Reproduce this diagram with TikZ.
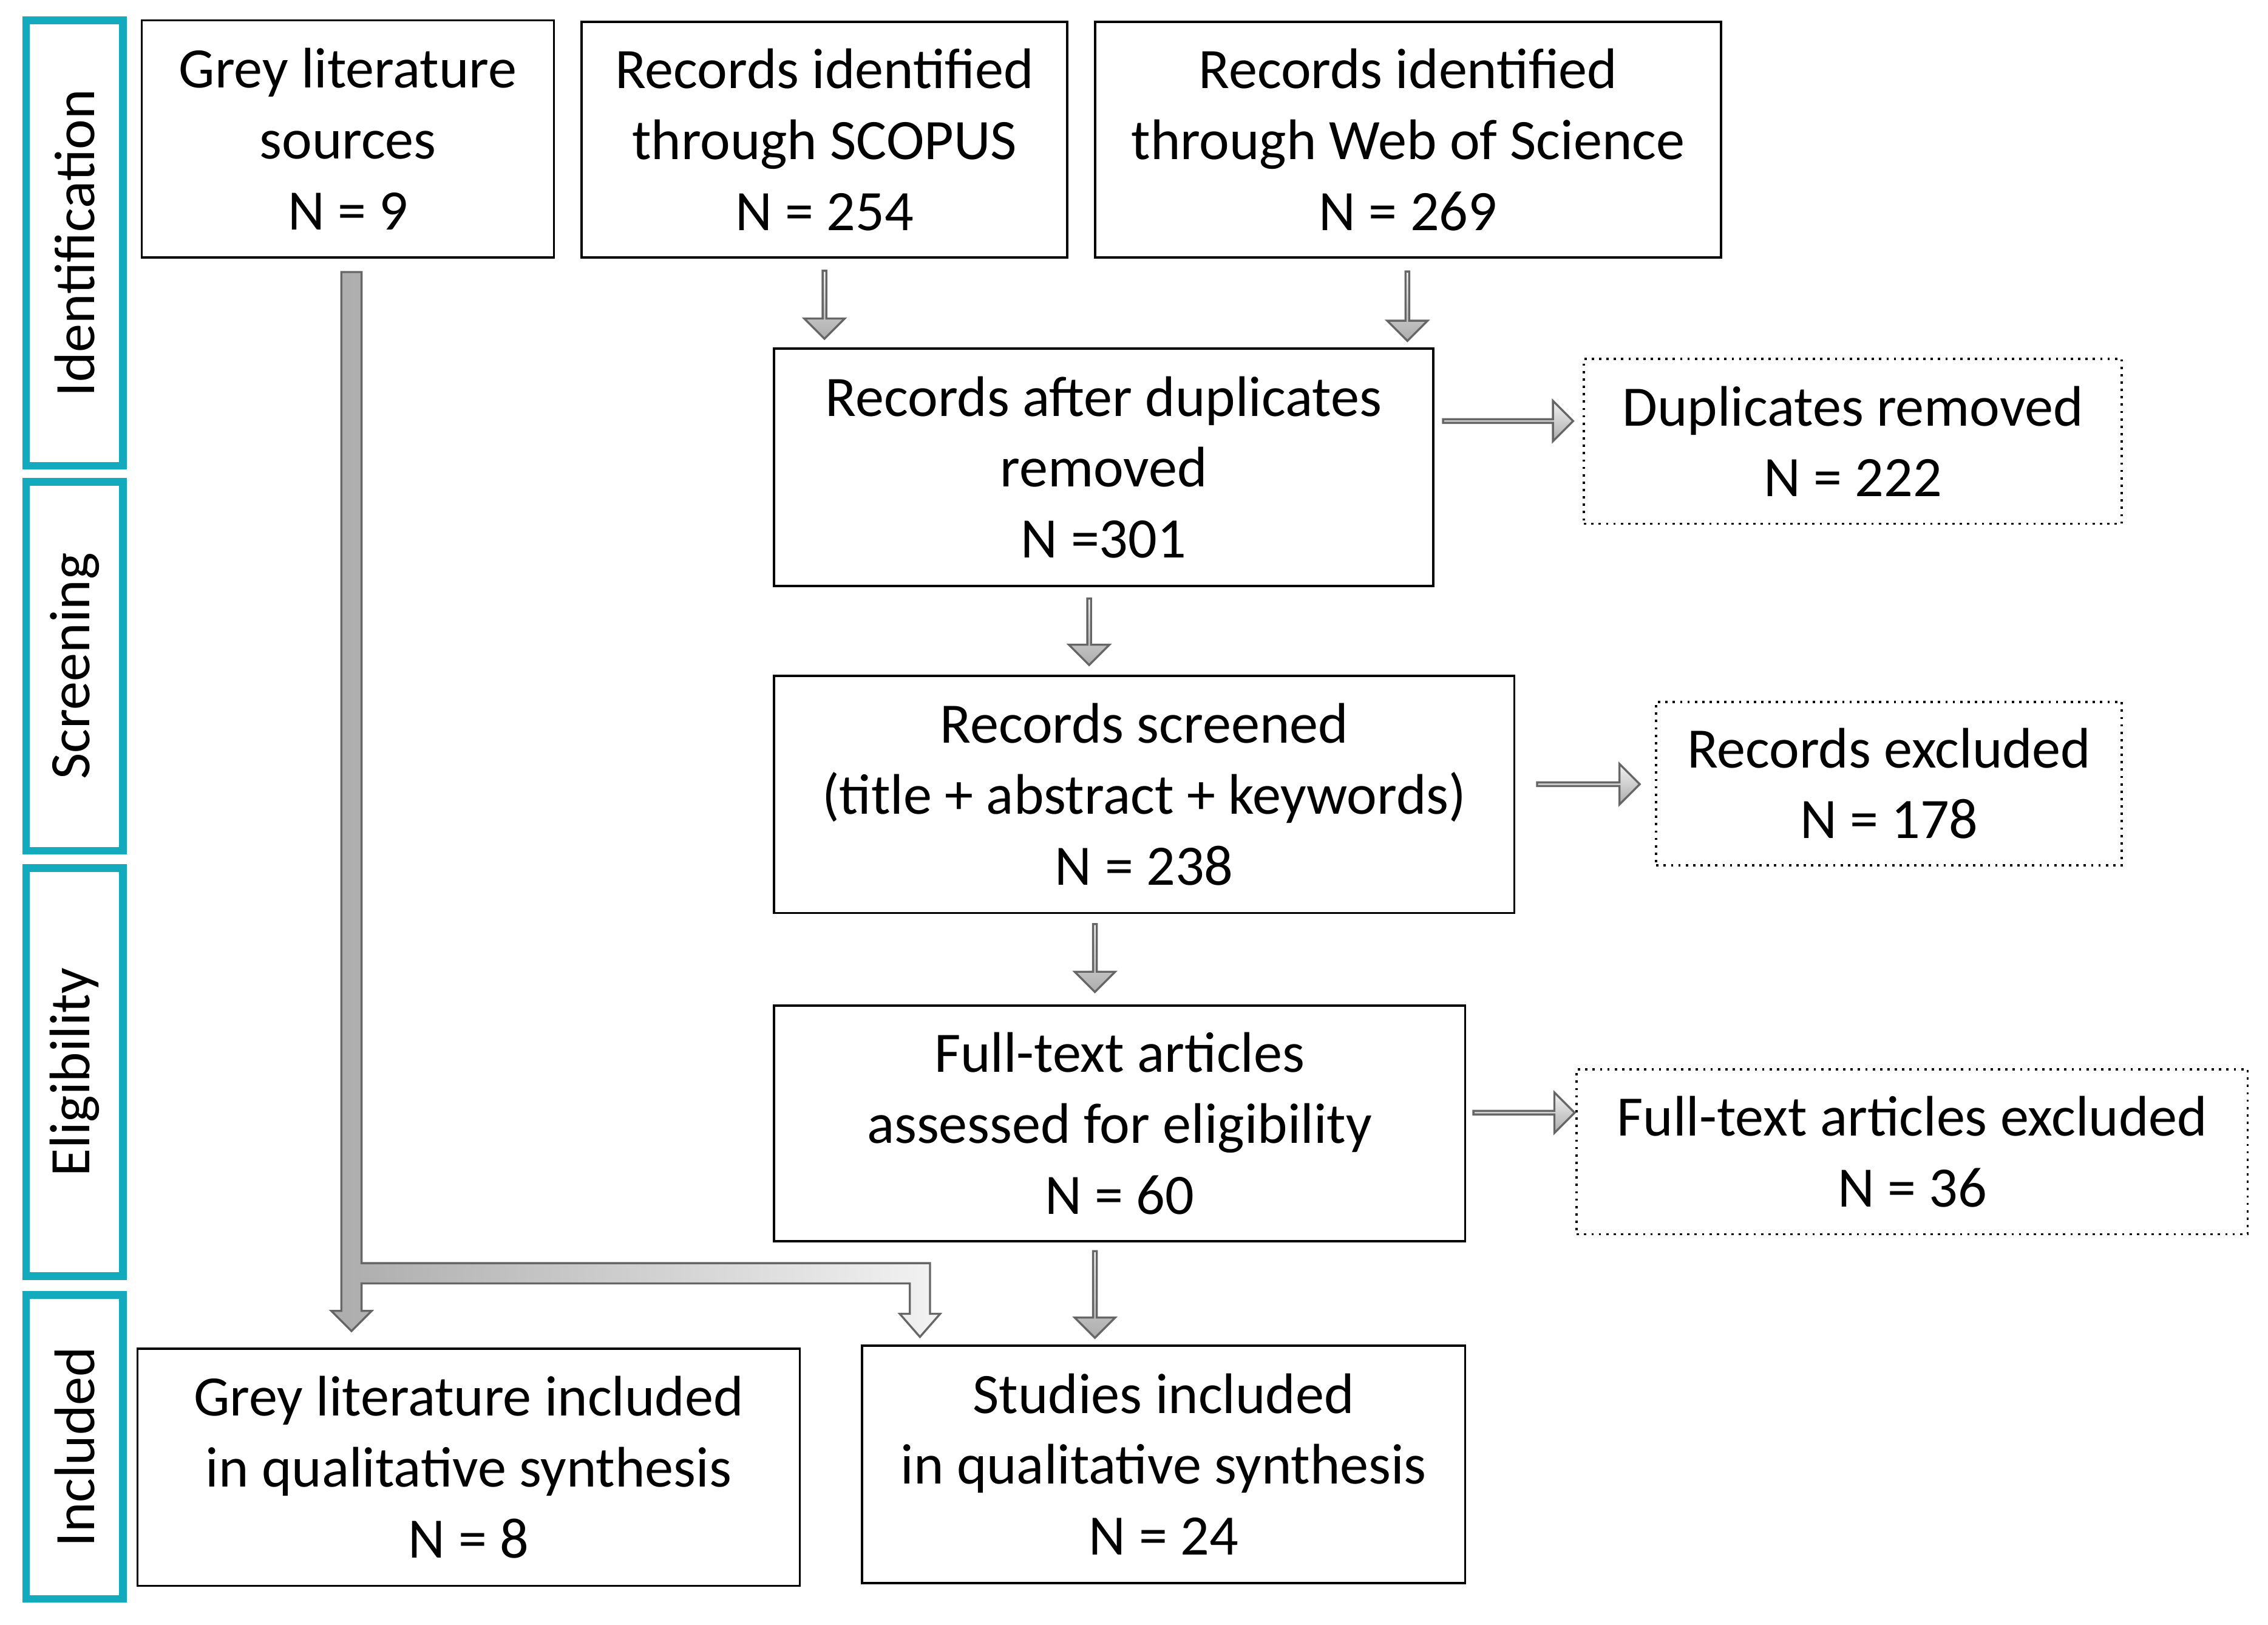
\documentclass[tikz,border=0pt]{standalone}
\usepackage{fontspec}
\setmainfont{Carlito}
\usetikzlibrary{shapes.arrows}
\definecolor{stagecol}{RGB}{20,170,190}
\begin{document}
\begin{tikzpicture}[x=0.02cm,y=-0.02cm,
  box/.style={draw,line width=0.9pt,align=center,font=\fontsize{22.5}{27.9}\selectfont,inner sep=0pt},
  dbox/.style={box,dotted},
  stage/.style={draw=stagecol,line width=3pt,font=\fontsize{22.5}{27}\selectfont,inner sep=0pt},
  blk/.style={single arrow,draw=gray!80!black,line width=0.8pt,minimum width=0.56cm,single arrow head extend=0.14cm,single arrow head indent=0pt,inner sep=0pt,top color=gray!10,bottom color=gray!65}]
\useasboundingbox (0,0) rectangle (1568,1123);
% stages
\node[stage,minimum width=1.34cm,minimum height=6.16cm] (s1) at (51.5,168) {};
\node[rotate=90,font=\fontsize{22.5}{27}\selectfont] (t1) at (s1) {Identification};
\node[stage,minimum width=1.34cm,minimum height=5.10cm] (s2) at (51.5,460.5) {};
\node[rotate=90,font=\fontsize{22.5}{27}\selectfont] (t2) at (s2) {Screening};
\node[stage,minimum width=1.34cm,minimum height=5.64cm] (s3) at (51.5,741) {};
\node[rotate=90,font=\fontsize{22.5}{27}\selectfont] (t3) at (s3) {Eligibility};
\node[stage,minimum width=1.34cm,minimum height=4.20cm] (s4) at (51.5,1000) {};
\node[rotate=90,font=\fontsize{22.5}{27}\selectfont] (t4) at (s4) {Included};
% boxes
\node[box,minimum width=5.70cm,minimum height=3.28cm] (grey) at (240.5,96) {Grey literature\\sources\\N = 9};
\node[box,minimum width=6.72cm,minimum height=3.26cm] (scopus) at (570,96.5) {Records identified\\through SCOPUS\\N = 254};
\node[box,minimum width=8.66cm,minimum height=3.26cm] (wos) at (973.5,96.5) {Records identified\\through Web of Science\\N = 269};
\node[box,minimum width=9.12cm,minimum height=3.28cm] (dup) at (763,323) {Records after duplicates\\removed\\N =301};
\node[dbox,minimum width=7.44cm,minimum height=2.28cm] (duprem) at (1281,305) {Duplicates removed\\N = 222};
\node[box,minimum width=10.24cm,minimum height=3.28cm] (scr) at (791,549) {Records screened\\(title + abstract + keywords)\\N = 238};
\node[dbox,minimum width=6.44cm,minimum height=2.26cm] (excl) at (1306,541.5) {Records excluded\\N = 178};
\node[box,minimum width=9.56cm,minimum height=3.26cm] (full) at (774,776.5) {Full-text articles\\assessed for eligibility\\N = 60};
\node[dbox,minimum width=9.28cm,minimum height=2.28cm] (fexcl) at (1322,796) {Full-text articles excluded\\N = 36};
\node[box,minimum width=9.16cm,minimum height=3.28cm] (greyinc) at (324,1014) {Grey literature included\\in qualitative synthesis\\N = 8};
\node[box,minimum width=8.34cm,minimum height=3.28cm] (stud) at (804.5,1012) {Studies included\\in qualitative synthesis\\N = 24};
% block arrows
\node[blk,rotate=-90,minimum height=0.94cm] (a1) at (570,210) {};
\node[blk,rotate=-90,minimum height=0.96cm] (a2) at (973,211) {};
\node[blk,rotate=-90,minimum height=0.92cm] (a3) at (753,436) {};
\node[blk,rotate=-90,minimum height=0.94cm] (a4) at (757,661.5) {};
\node[blk,rotate=-90,minimum height=1.20cm] (a5) at (757,894) {};
\node[blk,minimum height=1.80cm] (a6) at (1042,291) {};
\node[blk,minimum height=1.42cm] (a7) at (1097.5,542) {};
\node[blk,minimum height=1.40cm] (a8) at (1053,769) {};
% L-shaped arrow from grey sources
\draw[draw=gray!80!black,line width=0.8pt,left color=gray!65,right color=gray!10]
 (236,188)--(250,188)--(250,873)--(643,873)--(643,908)--(650,908)--(636,924)--(622,908)--(629,908)--(629,887)--(250,887)--(250,906)--(257,906)--(243,920)--(229,906)--(236,906)--cycle;
\end{tikzpicture}
\end{document}
